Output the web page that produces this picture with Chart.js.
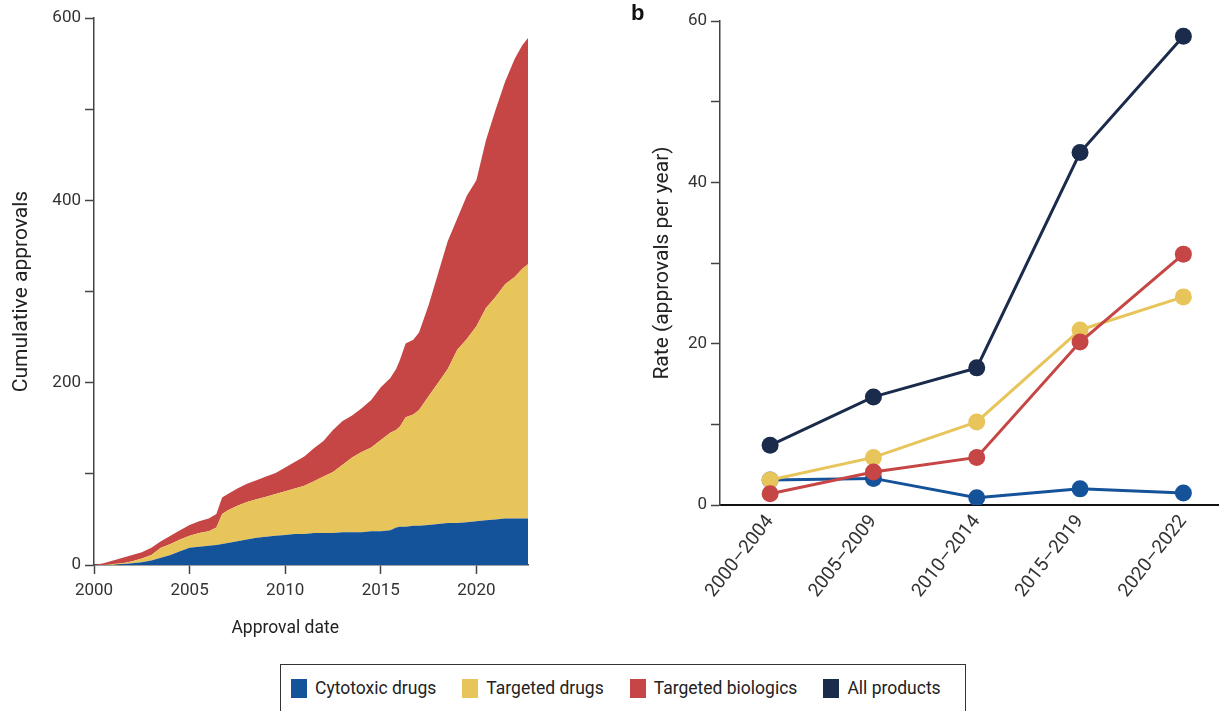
<!DOCTYPE html>
<html>
<head>
<meta charset="utf-8">
<script src="https://cdn.jsdelivr.net/npm/chart.js@4.4.0/dist/chart.umd.min.js"></script>
<style>
  body { margin: 0; background: #fff; width: 1227px; height: 711px; overflow: hidden; position: relative; font-family: Roboto, "Liberation Sans", sans-serif; }
  #leftWrap { position: absolute; left: 0; top: 0; width: 545px; height: 650px; }
  #rightWrap { position: absolute; left: 620px; top: 0; width: 607px; height: 620px; }
  #panelB { position: absolute; left: 631px; top: 0; font: bold 22px "Liberation Sans", Arial, sans-serif; color: #111; }
  #legend { position: absolute; left: 280px; top: 664px; width: 686px; height: 48px; border: 1.5px solid #333; box-sizing: border-box; display: flex; align-items: center; padding-left: 10px; white-space: nowrap; }
  .item { display: flex; align-items: center; flex-shrink: 0; font-size: 17.5px; color: #222; margin-right: 26px; }
  .sw { width: 16px; height: 19px; margin-right: 8px; flex-shrink: 0; }
</style>
</head>
<body>
<div id="leftWrap"><canvas id="cumChart"></canvas></div>
<div id="rightWrap"><canvas id="rateChart"></canvas></div>
<div id="panelB">b</div>
<div id="legend"></div>

<script>
// ---- data panel a: cumulative approvals (count per category) ----
const approvalYears = [2000.0, 2000.5, 2001.0, 2001.5, 2002.0, 2002.5, 2003.0, 2003.5, 2004.0, 2004.5,
  2005.0, 2005.5, 2006.0, 2006.4, 2006.7, 2007.0, 2007.5, 2008.0, 2008.5, 2009.0,
  2009.5, 2010.0, 2010.5, 2011.0, 2011.5, 2012.0, 2012.5, 2013.0, 2013.5, 2014.0,
  2014.5, 2015.0, 2015.5, 2015.8, 2016.0, 2016.3, 2016.7, 2017.0, 2017.5, 2018.0,
  2018.5, 2019.0, 2019.5, 2020.0, 2020.5, 2021.0, 2021.5, 2022.0, 2022.4, 2022.7];
const cytotoxicCum = [0, 0, 0, 1, 2, 3, 5, 8, 11, 15,
  19, 20, 21, 22, 23, 24, 26, 28, 30, 31,
  32, 33, 34, 34, 35, 35, 35, 36, 36, 36,
  37, 37, 38, 41, 42, 42, 43, 43, 44, 45,
  46, 46, 47, 48, 49, 50, 51, 51, 51, 51];
const targetedDrugsCum = [0, 0, 1, 1, 2, 4, 6, 11, 12, 13,
  13, 15, 16, 19, 33, 36, 39, 41, 42, 44,
  46, 48, 50, 53, 57, 62, 67, 74, 82, 88,
  92, 100, 107, 107, 110, 120, 122, 127, 141, 155,
  169, 190, 201, 214, 233, 244, 257, 265, 274, 279];
const targetedBiologicsCum = [0, 2, 4, 6, 7, 7, 8, 7, 9, 10,
  12, 13, 14, 15, 18, 18, 19, 20, 21, 22,
  23, 26, 29, 32, 36, 39, 46, 48, 46, 48,
  52, 58, 60, 67, 73, 81, 82, 85, 100, 120,
  140, 144, 157, 160, 184, 205, 222, 239, 245, 248];
const cumYTicks = [0, 100, 200, 300, 400, 500, 600];
const cumYLabels = ['0', '', '200', '', '400', '', '600'];
const yearTicks = [2000, 2005, 2010, 2015, 2020];

// ---- data panel b: approval rate per period ----
const periods = ['2000\u20132004', '2005\u20132009', '2010\u20132014', '2015\u20132019', '2020\u20132022'];
const rateCytotoxic = [3.1, 3.3, 0.9, 2.0, 1.5];
const rateTargetedDrugs = [3.1, 5.9, 10.3, 21.7, 25.8];
const rateTargetedBiologics = [1.4, 4.1, 5.9, 20.2, 31.1];
const rateAllProducts = [7.4, 13.4, 17.0, 43.7, 58.1];
const rateYTicks = [0, 10, 20, 30, 40, 50, 60];
const rateYLabels = ['0', '', '20', '', '40', '', '60'];

const seriesNames = ['Cytotoxic drugs', 'Targeted drugs', 'Targeted biologics', 'All products'];
const seriesColors = ['#14529a', '#e8c55a', '#c64545', '#1b2b4b'];

const fam = 'Roboto, "Liberation Sans", sans-serif';
const tickFont = { family: fam, size: 17 };
const titleFont = { family: fam, size: 21 };
const axisColor = '#444';

function pts(ys) { return approvalYears.map((x, i) => ({ x: x, y: ys[i] })); }

// x-axis title positioned at the 2010 tick
const xTitlePlugin = {
  id: 'xTitle',
  afterDraw(chart) {
    const ctx = chart.ctx, xs = chart.scales.x;
    ctx.save();
    ctx.font = '17.5px ' + fam;
    ctx.fillStyle = '#222';
    ctx.textAlign = 'center';
    ctx.textBaseline = 'middle';
    ctx.fillText('Approval date', xs.getPixelForValue(2010), chart.chartArea.bottom + 64);
    ctx.restore();
  }
};

new Chart(document.getElementById('cumChart'), {
  type: 'line',
  data: {
    datasets: [
      { label: seriesNames[0], data: pts(cytotoxicCum), backgroundColor: seriesColors[0], fill: 'origin' },
      { label: seriesNames[1], data: pts(targetedDrugsCum), backgroundColor: seriesColors[1], fill: '-1' },
      { label: seriesNames[2], data: pts(targetedBiologicsCum), backgroundColor: seriesColors[2], fill: '-1' }
    ]
  },
  options: {
    responsive: true,
    maintainAspectRatio: false,
    animation: false,
    layout: { padding: { top: 18, right: 17, left: 0, bottom: 0 } },
    elements: { point: { radius: 0 }, line: { borderWidth: 0, tension: 0 } },
    plugins: { legend: { display: false }, tooltip: { enabled: false } },
    scales: {
      x: {
        type: 'linear', min: 2000, max: 2022.7,
        afterBuildTicks: s => { s.ticks = yearTicks.map(v => ({ value: v })); },
        afterFit: s => { s.height = 85; },
        ticks: { font: tickFont, color: '#333', padding: 7, callback: v => String(v), maxRotation: 0 },
        grid: { drawOnChartArea: false, tickLength: 9, color: axisColor, tickWidth: 1.5 },
        border: { color: axisColor, width: 1.5 }
      },
      y: {
        stacked: true, min: 0, max: 600,
        afterBuildTicks: s => { s.ticks = cumYTicks.map(v => ({ value: v })); },
        afterFit: s => { s.width = 94; },
        ticks: { font: tickFont, color: '#333', padding: 4, callback: (v, i) => cumYLabels[i] },
        grid: { drawOnChartArea: false, tickLength: 9, color: axisColor, tickWidth: 1.5 },
        border: { color: axisColor, width: 1.5 },
        title: { display: true, text: 'Cumulative approvals', font: titleFont, color: '#222', padding: { top: 9, bottom: 0 } }
      }
    }
  },
  plugins: [xTitlePlugin]
});

const rateSets = [rateCytotoxic, rateTargetedDrugs, rateTargetedBiologics, rateAllProducts];
const drawOrder = [4, 3, 2, 1];

new Chart(document.getElementById('rateChart'), {
  type: 'line',
  data: {
    datasets: rateSets.map((d, i) => ({
      label: seriesNames[i], data: d.map((v, k) => ({ x: k, y: v })),
      borderColor: seriesColors[i], backgroundColor: seriesColors[i],
      pointBackgroundColor: seriesColors[i], pointBorderColor: seriesColors[i], order: drawOrder[i]
    }))
  },
  options: {
    responsive: true,
    maintainAspectRatio: false,
    animation: false,
    layout: { padding: { top: 21, right: 0, left: 0, bottom: 0 } },
    elements: { point: { radius: 8.5, borderWidth: 0 }, line: { borderWidth: 3, tension: 0, fill: false } },
    plugins: { legend: { display: false }, tooltip: { enabled: false } },
    scales: {
      x: {
        type: 'linear', min: -0.485, max: 4.34,
        afterBuildTicks: s => { s.ticks = periods.map((p, k) => ({ value: k })); },
        afterFit: s => { s.height = 115; },
        ticks: { font: { family: fam, size: 19 }, color: '#333', padding: 6, minRotation: 52, maxRotation: 52, callback: v => periods[v] },
        grid: { display: false, drawTicks: false },
        border: { color: '#111', width: 2 }
      },
      y: {
        min: 0, max: 60,
        afterBuildTicks: s => { s.ticks = rateYTicks.map(v => ({ value: v })); },
        afterFit: s => { s.width = 100; },
        ticks: { font: tickFont, color: '#333', padding: 4, callback: (v, i) => rateYLabels[i] },
        grid: { drawOnChartArea: false, tickLength: 9, color: axisColor, tickWidth: 1.5 },
        border: { color: axisColor, width: 1.5 },
        title: { display: true, text: 'Rate (approvals per year)', font: titleFont, color: '#222', padding: { top: 30, bottom: 0 } }
      }
    }
  }
});

// legend
const legend = document.getElementById('legend');
seriesNames.forEach((name, i) => {
  const it = document.createElement('div');
  it.className = 'item';
  it.innerHTML = '<span class="sw" style="background:' + seriesColors[i] + '"></span><span>' + name + '</span>';
  legend.appendChild(it);
});
</script>
</body>
</html>
